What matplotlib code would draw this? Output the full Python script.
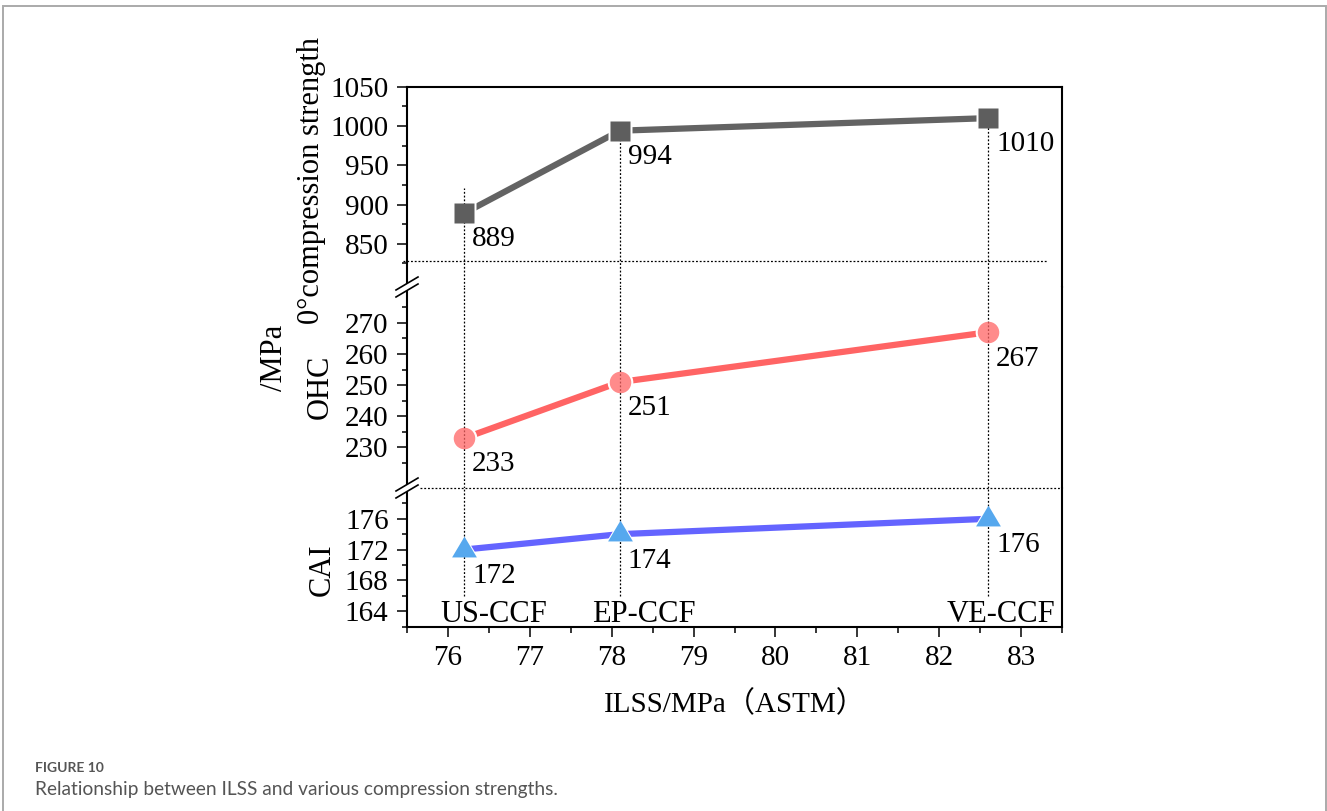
import matplotlib
matplotlib.use("Agg")
import matplotlib.pyplot as plt
import matplotlib.transforms as mtransforms
from matplotlib.patches import Polygon, Rectangle
from matplotlib.lines import Line2D
from matplotlib.ticker import FixedLocator, MultipleLocator

plt.rcParams["font.family"] = ["Liberation Serif", "Noto Sans CJK SC"]

# data
samples = ["US-CCF", "EP-CCF", "VE-CCF"]
ilss = [76.2, 78.1, 82.6]
cs0 = [889, 994, 1010]
ohc = [233, 251, 267]
cai = [172, 174, 176]

W, H = 1327, 811
fig = plt.figure(figsize=(W / 100, H / 100), dpi=100)

X0, X1 = 407, 1062


def px_box(top, bottom):
    return [X0 / W, 1 - bottom / H, (X1 - X0) / W, (bottom - top) / H]


ax_top = fig.add_axes(px_box(86.7, 287))
ax_mid = fig.add_axes(px_box(287, 488))
ax_bot = fig.add_axes(px_box(488, 626.5))

panels = [
    # ax, values, ylim, major, minor, marker, line colour, marker colour, alpha, size
    (ax_top, cs0, (795, 1050), range(850, 1051, 50), range(825, 1050, 50),
     "s", "#636363", "#5e5e5e", 1.0, 14.5),
    (ax_mid, ohc, (217, 281.5), range(230, 271, 10), range(225, 276, 10),
     "o", "#ff6464", "#ff6464", 0.75, 15.5),
    (ax_bot, cai, (162, 180), range(164, 177, 4), range(162, 179, 4),
     [(0, 1), (-0.893, -0.5), (0.893, -0.5)], "#6464ff", "#56a8ee", 1.0, 20),
]

for ax, vals, ylim, major, minor, mk, lc, mc, alpha, ms in panels:
    ax.set_xlim(75.5, 83.5)
    ax.set_ylim(*ylim)
    ax.yaxis.set_major_locator(FixedLocator(list(major)))
    ax.yaxis.set_minor_locator(FixedLocator(list(minor)))
    ax.tick_params(axis="y", which="major", length=7.2, width=1.1,
                   direction="out", labelsize=21, pad=6, right=False)
    ax.tick_params(axis="y", which="minor", length=3.6, width=1.1,
                   direction="out", right=False)
    for s in ax.spines.values():
        s.set_linewidth(1.5)
    ax.spines["top"].set_visible(ax is ax_top)
    ax.spines["bottom"].set_visible(ax is ax_bot)
    if ax is not ax_bot:
        ax.tick_params(axis="x", which="both", bottom=False, labelbottom=False)

    ax.plot(ilss, vals, color=lc, lw=4.5, solid_capstyle="round", zorder=2)
    ax.plot(ilss, vals, ls="none", marker=mk, ms=ms + 3, mfc="white",
            mec="none", zorder=3, clip_on=False)
    ax.plot(ilss, vals, ls="none", marker=mk, ms=ms, mfc=mc, mec="none",
            alpha=alpha, zorder=5, clip_on=False)
    for x, v in zip(ilss, vals):
        ax.annotate(str(v), (x, v), xytext=(5.5, -24), textcoords="offset points",
                    fontsize=21, ha="left", va="baseline", zorder=6)

# dotted guide lines
dots = dict(colors="black", lw=0.9, linestyles=(0, (1.5, 1.5)), zorder=4)
ax_top.vlines(ilss, 795, [921, 994, 1010], **dots)
ax_mid.vlines(ilss, 217, 281.5, **dots)
ax_bot.vlines(ilss, 166, 180, **dots)
ax_top.axhline(828, xmin=-0.006, xmax=0.979, color="black", lw=0.9,
               ls=(0, (1.5, 1.5)), clip_on=False, zorder=4)
ax_bot.axhline(180, xmin=0.02, xmax=1.0, color="black", lw=0.9,
               ls=(0, (1.5, 1.5)), clip_on=False, zorder=4)

# x axis
ax_bot.xaxis.set_major_locator(MultipleLocator(1))
ax_bot.xaxis.set_minor_locator(MultipleLocator(0.5))
ax_bot.tick_params(axis="x", which="major", length=7.5, width=1.1,
                   direction="out", labelsize=21, pad=6, top=False)
ax_bot.tick_params(axis="x", which="minor", length=4, width=1.1,
                   direction="out", top=False)
ax_bot.set_xlabel("ILSS/MPa（ASTM）", fontsize=21, labelpad=14)

# sample names
name_dx = [21, 17, 9]
for name, x, dx in zip(samples, ilss, name_dx):
    ax_bot.annotate(name, (x, 162), xytext=(dx, 3.5), textcoords="offset points",
                    fontsize=22, ha="center", va="baseline", zorder=6)


def axis_break(ax, yfrac):
    tr = fig.dpi_scale_trans + mtransforms.ScaledTranslation(0, yfrac, ax.transAxes)
    upper = [(-0.11, -0.03), (0.11, 0.10)]
    lower = [(-0.11, -0.10), (0.11, 0.03)]
    fig.add_artist(Polygon([upper[0], upper[1], lower[1], lower[0]], closed=True,
                           transform=tr, fc="white", ec="none", zorder=10))
    for seg in (upper, lower):
        xs, ys = zip(*seg)
        fig.add_artist(Line2D(xs, ys, transform=tr, color="black", lw=1.2, zorder=11))


axis_break(ax_top, 0)
axis_break(ax_bot, 1)

# y axis titles
fig.text(311 / W, 1 - 181 / H, "0°compression strength", rotation=90,
         fontsize=22, ha="center", va="center")
fig.text(275 / W, 1 - 358 / H, "/MPa", rotation=90, fontsize=22,
         ha="center", va="center")
fig.text(320 / W, 1 - 387 / H, "OHC", rotation=90, fontsize=22,
         ha="center", va="center")
fig.text(322 / W, 1 - 570 / H, "CAI", rotation=90, fontsize=22,
         ha="center", va="center")

# page frame and caption
fig.add_artist(Rectangle((3 / W, -0.05), 1323 / W, 1 - 6 / H + 0.05,
                         transform=fig.transFigure, fill=False,
                         ec="#aaaaaa", lw=1.4))
fig.text(35 / W, 1 - 768 / H, "FIGURE 10", fontsize=10, family="Lato",
         weight="bold", color="#555555", va="center")
fig.text(35 / W, 1 - 789 / H,
         "Relationship between ILSS and various compression strengths.",
         fontsize=13.8, family="Lato", color="#555555", va="center")

fig.savefig("out.png", dpi=100)
